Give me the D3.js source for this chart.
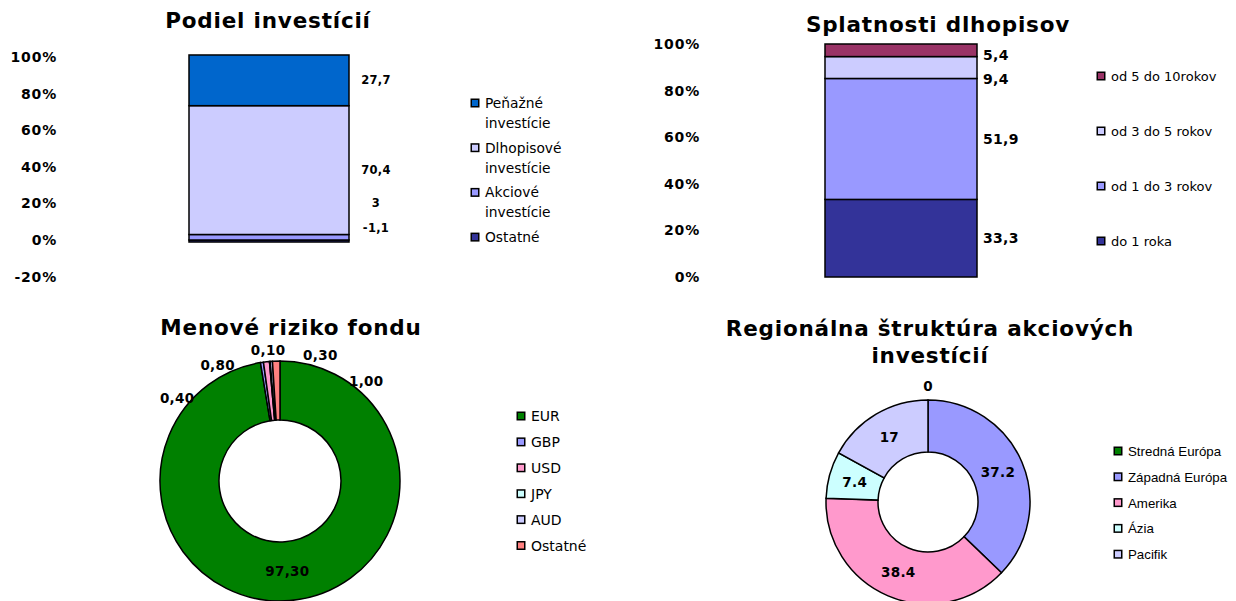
<!DOCTYPE html>
<html>
<head>
<meta charset="utf-8">
<script src="https://cdn.jsdelivr.net/npm/d3@7/dist/d3.min.js"></script>
<style>
    body { margin: 0; background: #fff; }
    svg { display: block; }
    .title { font-family: "DejaVu Sans", Verdana, sans-serif; font-weight: bold; font-size: 21.5px; letter-spacing: 0.8px; }
    .axis text { font-family: "DejaVu Sans", Verdana, sans-serif; font-weight: bold; font-size: 14px; letter-spacing: 0.8px; fill: #000; }
    .value-label { font-family: "DejaVu Sans", Verdana, sans-serif; font-weight: bold; letter-spacing: 0.3px; }
    .legend text { font-family: "DejaVu Sans", Tahoma, sans-serif; fill: #000; }
    .legend.arial text { font-family: "Liberation Sans", Arial, sans-serif; }
</style>
</head>
<body>
<svg id="chart" width="1236" height="601"></svg>
<script>
// ---- data ----

// Podiel investícií (legend order, top to bottom)
const investCategories = ["Peňažné investície", "Dlhopisové investície", "Akciové investície", "Ostatné"];
const investValues = [27.7, 70.4, 3, -1.1];
const investColors = ["#0066cc", "#ccccff", "#9999ff", "#333399"];
const investTicks = [-20, 0, 20, 40, 60, 80, 100];

// Splatnosti dlhopisov (legend order, top to bottom)
const maturityCategories = ["od 5 do 10rokov", "od 3 do 5 rokov", "od 1 do 3 rokov", "do 1 roka"];
const maturityValues = [5.4, 9.4, 51.9, 33.3];
const maturityColors = ["#993366", "#ccccff", "#9999ff", "#333399"];
const maturityTicks = [0, 20, 40, 60, 80, 100];

// Menové riziko fondu
const currencyCategories = ["EUR", "GBP", "USD", "JPY", "AUD", "Ostatné"];
const currencyValues = [97.3, 0.4, 0.8, 0.1, 0.3, 1.0];
const currencyColors = ["#008000", "#9999ff", "#ff99cc", "#ccffff", "#ccccff", "#ff8080"];

// Regionálna štruktúra akciových investícií
const regionCategories = ["Stredná Európa", "Západná Európa", "Amerika", "Ázia", "Pacifik"];
const regionValues = [0, 37.2, 38.4, 7.4, 17];
const regionColors = ["#008000", "#9999ff", "#ff99cc", "#ccffff", "#ccccff"];

const svg = d3.select("#chart");

// number formats: slovak comma decimals
const commaFmt = v => String(v).replace(".", ",");
const comma2Fmt = v => d3.format(".2f")(v).replace(".", ",");

function title(lines, x, y) {
    const t = svg.append("text").attr("class", "title")
        .attr("text-anchor", "middle");
    lines.forEach((l, i) => {
        t.append("tspan").attr("x", x).attr("y", y + i * 27).text(l);
    });
}

function legend(opt) {
    const g = svg.append("g").attr("class", "legend" + (opt.arial ? " arial" : ""));
    opt.categories.forEach((c, i) => {
        const cy = opt.y + i * opt.step;
        g.append("rect")
            .attr("x", opt.x - 3.75).attr("y", cy - 3.75)
            .attr("width", 7.5).attr("height", 7.5)
            .attr("fill", opt.colors[i])
            .attr("stroke", "#000").attr("stroke-width", 1.5);
        // wrap onto two lines when asked
        const lines = opt.wrap ? c.split(" ") : [c];
        const t = g.append("text").attr("dominant-baseline", "central")
            .style("font-size", opt.size + "px");
        lines.forEach((l, j) => {
            t.append("tspan").attr("x", opt.x + 10).attr("y", cy + j * 20).text(l);
        });
    });
}

function stackedBar(opt) {
    const y = d3.scaleLinear().domain([0, 100]).range(opt.yRange);
    const x = d3.scaleBand().domain(["bar"]).range(opt.xRange).padding(1 / 3);

    // y axis: labels only
    const axis = svg.append("g").attr("class", "axis")
        .attr("transform", `translate(${opt.axisX},0)`)
        .call(d3.axisLeft(y).tickValues(opt.ticks).tickSize(0).tickPadding(0)
            .tickFormat(d => d + "%"));
    axis.select(".domain").remove();

    // stack bottom-up = reversed legend order
    const keys = opt.categories.slice().reverse();
    const row = {};
    opt.categories.forEach((c, i) => row[c] = opt.values[i]);
    const series = d3.stack().keys(keys).offset(d3.stackOffsetDiverging)([row]);

    svg.append("g").selectAll("rect")
        .data(series)
        .join("rect")
        .attr("x", x("bar"))
        .attr("width", x.bandwidth())
        .attr("y", d => y(d[0][1]))
        .attr("height", d => Math.abs(y(d[0][0]) - y(d[0][1])))
        .attr("fill", d => opt.colors[opt.categories.indexOf(d.key)])
        .attr("stroke", "#000").attr("stroke-width", 1.5);

    // labels at segment middles, pushed apart so they don't overlap
    let labels = series.map(d => ({
        key: d.key,
        value: row[d.key],
        y: y((d[0][0] + d[0][1]) / 2)
    }));
    if (opt.push === "up") {
        labels.sort((a, b) => b.y - a.y);
        let limit = y(0) - opt.edge;
        labels.forEach(l => { l.y = Math.min(l.y, limit); limit = l.y - opt.gap; });
    } else {
        labels.sort((a, b) => a.y - b.y);
        let limit = y(100) + opt.edge;
        labels.forEach(l => { l.y = Math.max(l.y, limit); limit = l.y + opt.gap; });
    }
    svg.append("g").selectAll("text")
        .data(labels)
        .join("text")
        .attr("class", "value-label")
        .attr("x", x("bar") + x.bandwidth() + opt.labelDx)
        .attr("y", d => d.y)
        .attr("text-anchor", opt.labelAnchor)
        .attr("dominant-baseline", "central")
        .style("font-size", opt.labelSize + "px")
        .text(d => commaFmt(d.value));
}

function donut(opt) {
    const pie = d3.pie().sort(null).value(d => d.value);
    const data = pie(opt.categories.map((c, i) => ({ key: c, value: opt.values[i], color: opt.colors[i] })));
    const arc = d3.arc().innerRadius(opt.inner).outerRadius(opt.outer);
    const g = svg.append("g").attr("transform", `translate(${opt.cx},${opt.cy})`);

    g.selectAll("path")
        .data(data)
        .join("path")
        .attr("d", arc)
        .attr("fill", d => d.data.color)
        .attr("stroke", "#000").attr("stroke-width", 1.5);

    // big slices: label inside the ring; thin slices: spread around outside
    const big = data.filter(d => d.endAngle - d.startAngle > 0.2);
    const small = data.filter(d => d.endAngle - d.startAngle <= 0.2);
    const lab = big.map(d => {
        const c = arc.centroid(d);
        return { x: c[0], y: c[1], text: opt.fmt(d.data.value) };
    });
    if (small.length) {
        const mids = small.map(d => {
            let a = (d.startAngle + d.endAngle) / 2;
            return a > Math.PI ? a - 2 * Math.PI : a;
        });
        const mean = d3.mean(mids);
        const step = opt.spread * Math.PI / 180;
        const r = opt.outer + opt.outside;
        small.forEach((d, i) => {
            const a = mean + (i - (small.length - 1) / 2) * step;
            lab.push({ x: Math.sin(a) * r, y: -Math.cos(a) * r, text: opt.fmt(d.data.value) });
        });
    }
    g.selectAll("text")
        .data(lab)
        .join("text")
        .attr("class", "value-label")
        .attr("x", d => d.x)
        .attr("y", d => d.y)
        .attr("text-anchor", "middle")
        .attr("dominant-baseline", "central")
        .style("font-size", opt.labelSize + "px")
        .text(d => d.text);
}

// ---- Podiel investícií ----
title(["Podiel investícií"], 268, 28);
stackedBar({
    categories: investCategories, values: investValues, colors: investColors,
    ticks: investTicks, yRange: [240, 57], xRange: [109, 429], axisX: 57,
    push: "up", edge: 12, gap: 25, labelDx: 27, labelAnchor: "middle", labelSize: 11.5
});
legend({ categories: investCategories, colors: investColors, x: 475, y: 103, step: 44.7, wrap: true, size: 13.8 });

// ---- Splatnosti dlhopisov ----
title(["Splatnosti dlhopisov"], 938, 32);
stackedBar({
    categories: maturityCategories, values: maturityValues, colors: maturityColors,
    ticks: maturityTicks, yRange: [277, 44], xRange: [749, 1053], axisX: 700,
    push: "down", edge: 11, gap: 24, labelDx: 6, labelAnchor: "start", labelSize: 14
});
legend({ categories: maturityCategories, colors: maturityColors, x: 1101, y: 76, step: 55, size: 13 });

// ---- Menové riziko fondu ----
title(["Menové riziko fondu"], 291, 335);
donut({
    categories: currencyCategories, values: currencyValues, colors: currencyColors,
    cx: 280, cy: 481, outer: 120, inner: 61, outside: 12, spread: 23,
    fmt: comma2Fmt, labelSize: 13.5
});
legend({ categories: currencyCategories, colors: currencyColors, x: 521, y: 416, step: 25.9, size: 14 });

// ---- Regionálna štruktúra akciových investícií ----
title(["Regionálna štruktúra akciových", "investícií"], 930, 336);
donut({
    categories: regionCategories, values: regionValues, colors: regionColors,
    cx: 928, cy: 502, outer: 102, inner: 50, outside: 14, spread: 22,
    fmt: v => String(v), labelSize: 13.5
});
legend({ categories: regionCategories, colors: regionColors, x: 1118, y: 451, step: 25.8, arial: true, size: 13.3 });
</script>
</body>
</html>
